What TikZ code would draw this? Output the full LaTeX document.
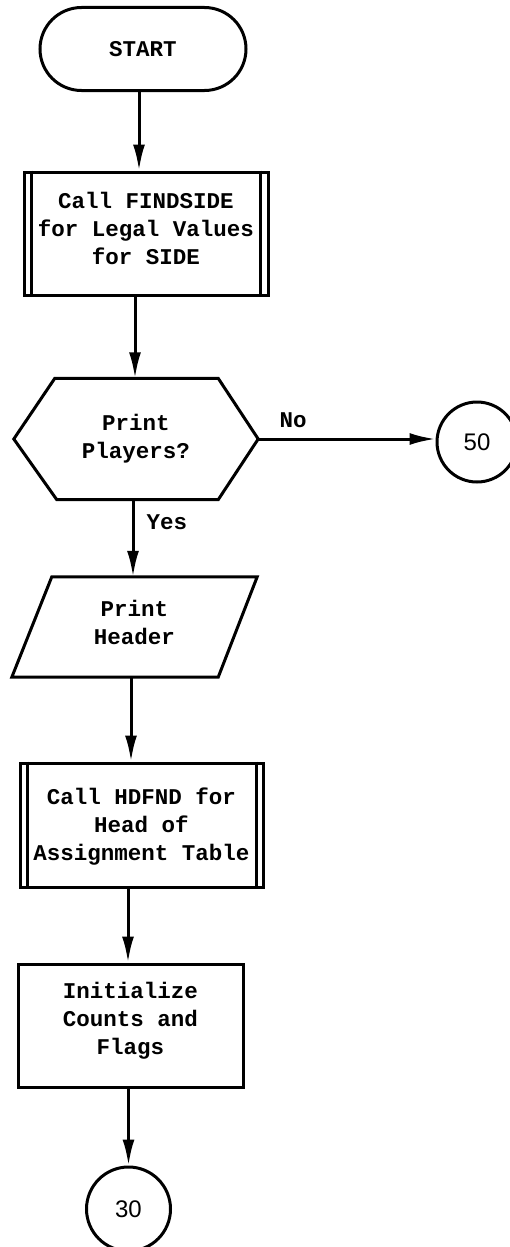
\documentclass[tikz,border=0pt]{standalone}
\usepackage{fontspec}
\setmonofont{Liberation Mono}
\newfontfamily\numfont{Liberation Sans}
\usetikzlibrary{shapes.misc,arrows.meta,calc}
\begin{document}
\begin{tikzpicture}[x=1pt,y=-1pt,
  line/.style={line width=3pt, line join=miter},
  arr/.style={line width=3pt,-{Latex[length=26pt,width=12pt]}},
  txt/.style={font=\fontsize{22.5}{28}\selectfont\ttfamily\bfseries, align=center, inner sep=0pt},
  box/.style={draw, line width=3pt, txt},
  conn/.style={circle, draw, line width=3pt, inner sep=0pt, minimum size=80pt, font=\fontsize{24}{26}\selectfont\numfont}
]
\useasboundingbox (0,0) rectangle (509,1247);
% START terminator
\node[box, rounded rectangle, minimum width=206pt, minimum height=83pt] (start) at (143,49) {START};
% FINDSIDE subroutine box
\node[box, minimum width=244pt, minimum height=123pt] (f1) at (146,233.5) {};
\node[txt] (f1t) at ([yshift=5pt]f1.center) {Call FINDSIDE\\for Legal Values\\for SIDE};
\draw[line] ([xshift=9pt]f1.north west) -- ([xshift=9pt]f1.south west);
\draw[line] ([xshift=-9pt]f1.north east) -- ([xshift=-9pt]f1.south east);
% decision hexagon
\node[txt, minimum width=244pt, minimum height=121pt] (dec) at (136,439) {Print\\Players?};
\draw[line] (dec.west) -- ($(dec.north west)+(41,0)$) -- ($(dec.north east)+(-40,0)$) -- (dec.east)
  -- ($(dec.south east)+(-40,0)$) -- ($(dec.south west)+(43,0)$) -- cycle;
% connector 50
\node[conn] (c50) at (477,442) {50};
% print header parallelogram
\node[minimum width=245pt, minimum height=100pt, inner sep=0pt] (hdr) at (134.5,627) {};
\node[txt] (hdrt) at ([yshift=5pt]hdr.center) {Print\\Header};
\draw[line] ($(hdr.north west)+(40,0)$) -- (hdr.north east) -- ($(hdr.south east)+(-39,0)$) -- (hdr.south west) -- cycle;
% HDFND subroutine box
\node[box, minimum width=243pt, minimum height=124pt] (h2) at (141.5,825) {};
\node[txt] (h2t) at ([yshift=-2pt]h2.center) {Call HDFND for\\Head of\\Assignment Table};
\draw[line] ([xshift=9pt]h2.north west) -- ([xshift=9pt]h2.south west);
\draw[line] ([xshift=-8pt]h2.north east) -- ([xshift=-8pt]h2.south east);
% initialize box
\node[box, minimum width=225pt, minimum height=123pt] (init) at (130.5,1025.5) {};
\node[txt] (initt) at ([yshift=5pt]init.center) {Initialize\\Counts and\\Flags};
% connector 30
\node[conn, minimum size=84pt] (c30) at (128.5,1209) {30};
% labels
\node[txt] (no) at (293,420) {No};
\node[txt] (yes) at (167,522) {Yes};
% connectors
\draw[arr] ([xshift=-4pt]start.south) -- ([xshift=-4pt]start.south |- f1.north);
\draw[arr] ([xshift=-11pt]f1.south) -- ([xshift=-11pt]f1.south |- dec.north);
\draw[arr] (dec.east) -- (dec.east -| c50.west);
\draw[arr] ([xshift=-3pt]dec.south) -- ([xshift=-3pt]dec.south |- hdr.north);
\draw[arr] ([xshift=-3.5pt]hdr.south) -- ([xshift=-3.5pt]hdr.south |- h2.north);
\draw[arr] ([xshift=-13.5pt]h2.south) -- ([xshift=-13.5pt]h2.south |- init.north);
\draw[arr] ([xshift=-2pt]init.south) -- (c30.north);
\end{tikzpicture}
\end{document}
